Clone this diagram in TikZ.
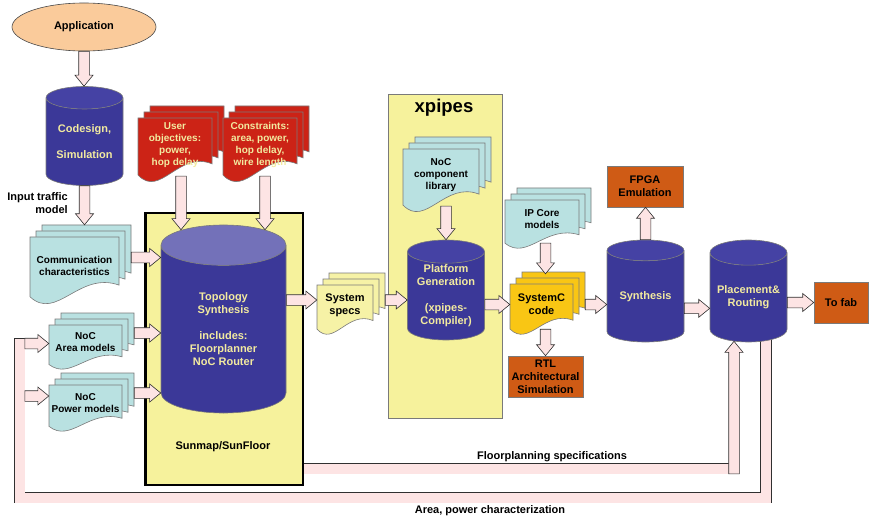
\documentclass[tikz,border=0pt]{standalone}
\usepackage{fontspec}
\setmainfont{Liberation Sans}
\usetikzlibrary{shapes.geometric,calc,backgrounds}

\definecolor{arrowpink}{HTML}{FDE4E4}
\definecolor{arrowline}{HTML}{303030}
\definecolor{edge}{HTML}{7A7A7A}
\definecolor{cylblue}{HTML}{3B3898}
\definecolor{cyltop}{HTML}{4542A4}
\definecolor{cyltext}{HTML}{F2EAA0}
\definecolor{doccyan}{HTML}{B9E1E1}
\definecolor{docred}{HTML}{CC2316}
\definecolor{docyellow}{HTML}{F6F2A6}
\definecolor{docgold}{HTML}{F9C614}
\definecolor{boxorange}{HTML}{CF5B15}
\definecolor{panelyellow}{HTML}{F6F29C}
\definecolor{appfill}{HTML}{FACB9B}

% block arrow from #1 to #2
\newcommand\barrow[2]{%
  \path[draw=arrowline, fill=arrowpink, line width=0.6pt, line join=miter]
    let \p1=(#1), \p2=(#2), \n1={atan2(\y2-\y1,\x2-\x1)}, \n2={veclen(\x2-\x1,\y2-\y1)} in
    {[shift={(\p1)}, rotate=\n1]
      (0pt,-5.3pt) -- (\n2-11pt,-5.3pt) -- (\n2-11pt,-9pt) -- (\n2,0pt)
      -- (\n2-11pt,9pt) -- (\n2-11pt,5.3pt) -- (0pt,5.3pt) -- cycle};}

% stack of three pages: [text opts]{name}{left}{top}{width}{height}{fill}{text}
\newcommand\docstack[8][]{%
  \foreach \k in {2,1,0}{%
    \pgfmathsetmacro\dlx{#3+6*\k}%
    \pgfmathsetmacro\dty{#4-6*\k}%
    \draw[docline, fill=#7] (\dlx,\dty) -- ++(#5,0) -- ++(0,0.74*#6)
      .. controls (\dlx+0.55*#5,\dty+0.52*#6) and (\dlx+0.3*#5,\dty+1.3*#6) .. (\dlx,\dty+0.92*#6) -- cycle;
  }
  \node[doctext, minimum width=#5pt, minimum height=#6pt, #1] (#2) at (#3+#5/2, #4+#6/2-4) {#8};}

\begin{document}
\begin{tikzpicture}
  [x=1pt,y=-1pt,
   cyl/.style={cylinder, shape border rotate=90, aspect=0.4, anchor=shape center, draw=edge, line width=0.6pt,
     cylinder uses custom fill, cylinder body fill=cylblue, cylinder end fill=cyltop,
     text=cyltext, align=center, font=\bfseries\fontsize{11}{13}\selectfont, inner sep=0pt},
   docline/.style={draw=edge, line width=0.6pt},
   doctext/.style={align=center, font=\bfseries\fontsize{10}{12}\selectfont, inner sep=0pt},
   obox/.style={draw=edge, line width=0.6pt, fill=boxorange, align=center,
     font=\bfseries\fontsize{11}{13}\selectfont, inner sep=0pt},
   panel/.style={fill=panelyellow, inner sep=0pt},
   band/.style={draw=arrowline, line width=0.6pt, double=arrowpink, double distance=10pt, line join=miter},
   lbl/.style={font=\bfseries\fontsize{11}{13}\selectfont, inner sep=0pt}]
  \useasboundingbox (0,0) rectangle (872,521);

  % tool boxes
  \node[panel, draw=black, line width=2.5pt, minimum width=157.5pt, minimum height=271.5pt] (sunmap) at (224,349) {};
  \node[panel, draw=edge, line width=0.8pt, minimum width=114pt, minimum height=324pt] (xpipes) at (445,256) {};
  \node[lbl] (sunlbl) at (223,447) {Sunmap/SunFloor};
  \node[lbl, font=\bfseries\fontsize{18.5}{20}\selectfont] (xtitle) at (444,108) {xpipes};

  \node[ellipse, draw=edge!60!black, line width=0.6pt, fill=appfill, minimum width=144pt, minimum height=48pt,
    font=\bfseries\fontsize{11}{13}\selectfont] (app) at (84,27) {Application};

  \node[cyl, minimum width=77pt, minimum height=99pt] (codesign) at (84.5,136) {Codesign,\\[13pt]Simulation};
  \node[cyl, aspect=0.6, cylinder end fill=cyltop!70!white!85!cylblue, minimum width=125pt, minimum height=188pt] (topo) at (223.5,319)
    {Topology\\Synthesis\\[13pt]includes:\\Floorplanner\\NoC Router};
  \node[cyl, minimum width=77pt, minimum height=100pt] (platform) at (446,290)
    {Platform\\Generation\\[13pt](xpipes-\\Compiler)};
  \node[cyl, minimum width=77pt, minimum height=102pt] (synth) at (645.5,291) {Synthesis};
  \node[cyl, minimum width=77pt, minimum height=102pt] (place) at (748.5,291) {Placement\&\\Routing};

  \docstack{comm}{30}{237}{89}{65}{doccyan}{Communication\\characteristics}
  \docstack{area}{49}{325}{73}{43}{doccyan}{NoC\\Area models}
  \docstack{power}{49}{385}{73}{45}{doccyan}{NoC\\Power models}
  \docstack[text=cyltext]{userobj}{138}{118}{74}{62}{docred}{User\\objectives:\\power,\\hop delay}
  \docstack[text=cyltext]{constr}{223}{118}{74}{62}{docred}{Constraints:\\area, power,\\hop delay,\\wire length}
  \docstack[font=\bfseries\fontsize{11}{13}\selectfont]{specs}{317}{285}{56}{48}{docyellow}{System\\specs}
  \docstack{complib}{403}{149}{76}{61}{doccyan}{NoC\\component\\library}
  \docstack{ipcore}{505}{200}{74}{47}{doccyan}{IP Core\\models}
  \docstack[font=\bfseries\fontsize{11}{13}\selectfont]{sysc}{510}{284}{63}{49}{docgold}{SystemC\\code}

  \node[obox, minimum width=76pt, minimum height=41pt] (fpga) at (645,186.5) {FPGA\\Emulation};
  \node[obox, minimum width=75pt, minimum height=41pt] (rtl) at (545.5,376.5) {RTL\\Architectural\\Simulation};
  \node[obox, minimum width=54pt, minimum height=41pt] (fab) at (841,302.5) {To fab};

  \node[lbl, align=right, anchor=east] (traffic) at (68,203) {Input traffic\\model};
  \node[lbl] (fplbl) at (552,457) {Floorplanning specifications};
  \node[lbl] (aplbl) at (490,511) {Area, power characterization};

  % feedback paths
  \coordinate (fpturn) at (734,468.5);
  \coordinate (apturn) at (766,497.5);
  \coordinate (apleft) at (19.5,497.5);
  \coordinate (aptop) at (19.5,338);
  \begin{scope}[on background layer]
    \draw[band] (sunmap.east |- fpturn) -- ($(fpturn)+(5.3,0)$);
    \draw[band] (apturn |- place.center) -- (apturn) -- (apleft) -- (aptop);
  \end{scope}
  \draw[arrowline, line width=0.6pt] ($(aptop)+(-5.3,0)$) -- ($(aptop)+(5.3,0)$);

  \barrow{app.south}{app.south |- codesign.north}
  \barrow{codesign.south}{$(codesign.south |- comm.north)+(0,-8)$}
  \barrow{$(comm.east)+(12,-8)$}{$(comm.east -| topo.west)+(0,-8)$}
  \barrow{$(area.east)+(12,-9.5)$}{$(area.east -| topo.west)+(0,-9.5)$}
  \barrow{$(power.east)+(12,-10.5)$}{$(power.east -| topo.west)+(0,-10.5)$}
  \barrow{$(userobj.south)+(6,0)$}{$(userobj.south |- topo.north)+(6,5)$}
  \barrow{$(constr.south)+(5,0)$}{$(constr.south |- topo.north)+(5,5)$}
  \barrow{$(topo.east |- specs.west)+(0,-5)$}{$(specs.west)+(0,-5)$}
  \barrow{$(specs.east)+(12,-5)$}{$(specs.east -| platform.west)+(0,-5)$}
  \barrow{platform.north |- complib.south}{platform.north}
  \barrow{platform.east |- sysc.west}{sysc.west}
  \barrow{rtl.north |- ipcore.south}{$(rtl.north |- sysc.north)+(0,-6)$}
  \barrow{rtl.north |- sysc.south}{rtl.north}
  \barrow{$(sysc.east)+(12,0)$}{sysc.east -| synth.west}
  \barrow{synth.north}{synth.north |- fpga.south}
  \barrow{$(synth.east)+(0,12)$}{$(synth.east -| place.west)+(0,12)$}
  \barrow{place.east |- fab.west}{fab.west}
  \barrow{$(fpturn)+(0,5.3)$}{$(fpturn |- place.south)+(0,-1)$}
  \barrow{$(aptop |- area.west)+(5.3,1)$}{$(area.west)+(0,1)$}
  \barrow{$(aptop |- power.west)+(5.3,-7.5)$}{$(power.west)+(0,-7.5)$}
\end{tikzpicture}
\end{document}
